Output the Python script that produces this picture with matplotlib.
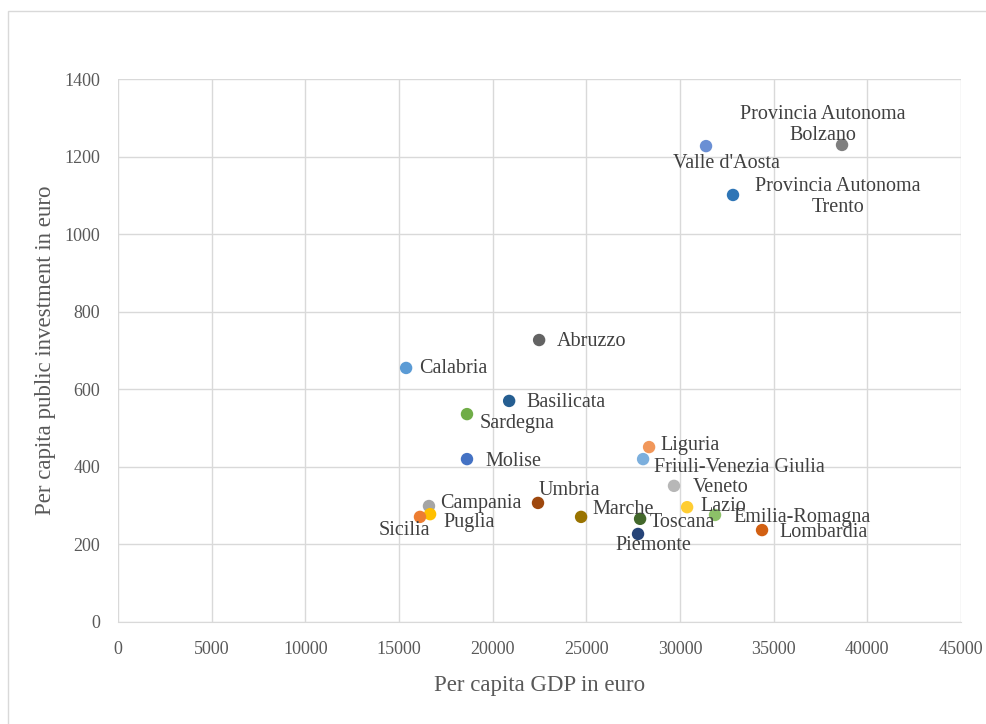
import matplotlib
matplotlib.use("Agg")
import matplotlib.pyplot as plt
from matplotlib.patches import Rectangle

# data
regions = ["Provincia Autonoma\nBolzano", "Valle d'Aosta", "Provincia Autonoma\nTrento",
           "Abruzzo", "Calabria", "Basilicata", "Sardegna", "Molise", "Liguria",
           "Friuli-Venezia Giulia", "Veneto", "Umbria", "Campania", "Puglia", "Sicilia",
           "Marche", "Toscana", "Piemonte", "Lazio", "Emilia-Romagna", "Lombardia"]
gdp = [38650, 31390, 32830, 22480, 15380, 20880, 18630, 18630, 28350,
       28030, 29680, 22420, 16600, 16660, 16120, 24720, 27870, 27760, 30380, 31870, 34380]
investment = [1230, 1227, 1101, 727, 655, 570, 536, 420, 451,
              420, 351, 307, 299, 278, 271, 271, 266, 227, 296, 276, 237]

colors = ["#7F7F7F", "#6A8FD4", "#2E75B6", "#636363", "#5B9BD5", "#255E91", "#70AD47",
          "#4472C4", "#F1975A", "#7CAFDD", "#B7B7B7", "#9E480E", "#A5A5A5", "#FFC000",
          "#ED7D31", "#997300", "#43682B", "#264478", "#FFCD33", "#8CC168", "#D26012"]

# label offsets in pixels (dx, dy, ha)
label_pos = [(-19, 20, "center"), (20, -17, "center"), (105, -2, "center"),
             (18, -1, "left"), (13, -1, "left"), (17, -2, "left"), (13, -9, "left"),
             (18, -2, "left"), (11, 2, "left"), (11, -8, "left"), (19, -2, "left"),
             (1, 12, "left"), (11, 3, "left"), (13, -8, "left"), (10, -14, "right"),
             (11, 7, "left"), (10, -4, "left"), (15, -12, "center"), (13, 1, "left"),
             (18, -3, "left"), (17, -2, "left")]

plt.rcParams["font.family"] = ["Liberation Serif", "DejaVu Serif"]

fig = plt.figure(figsize=(9.87, 7.24), dpi=100)
ax = fig.add_axes([118 / 987, 1 - 622 / 724, 843 / 987, 543 / 724])

# outer chart frame
fig.patches.append(Rectangle((8 / 987, -0.05), 1.1, 1 - 11 / 724 + 0.05,
                             transform=fig.transFigure, fill=False,
                             edgecolor="#D9D9D9", linewidth=1.0))

ax.scatter(gdp, investment, s=80, c=colors, zorder=3, linewidths=0)

for name, x, y, (dx, dy, ha) in zip(regions, gdp, investment, label_pos):
    ax.annotate(name, (x, y), xytext=(dx, dy), textcoords="offset pixels",
                ha=ha, va="center", multialignment="center", linespacing=1.2,
                fontsize=14.5, color="#404040", zorder=4)

ax.set_xlim(0, 45000)
ax.set_ylim(0, 1400)
ax.set_xticks(range(0, 45001, 5000))
ax.set_yticks(range(0, 1401, 200))
ax.grid(True, color="#D9D9D9", linewidth=1.0)
ax.set_axisbelow(True)
for side in ["top", "right", "left"]:
    ax.spines[side].set_visible(False)
ax.spines["bottom"].set_color("#D9D9D9")
ax.tick_params(length=0, labelsize=13, labelcolor="#595959")
ax.tick_params(axis="x", pad=14)
ax.tick_params(axis="y", pad=13)

ax.set_xlabel("Per capita GDP in euro", fontsize=16.5, color="#595959", labelpad=12)
ax.set_ylabel("Per capita public investment in euro", fontsize=16.5, color="#595959", labelpad=6)

fig.savefig("out.png", dpi=100)
